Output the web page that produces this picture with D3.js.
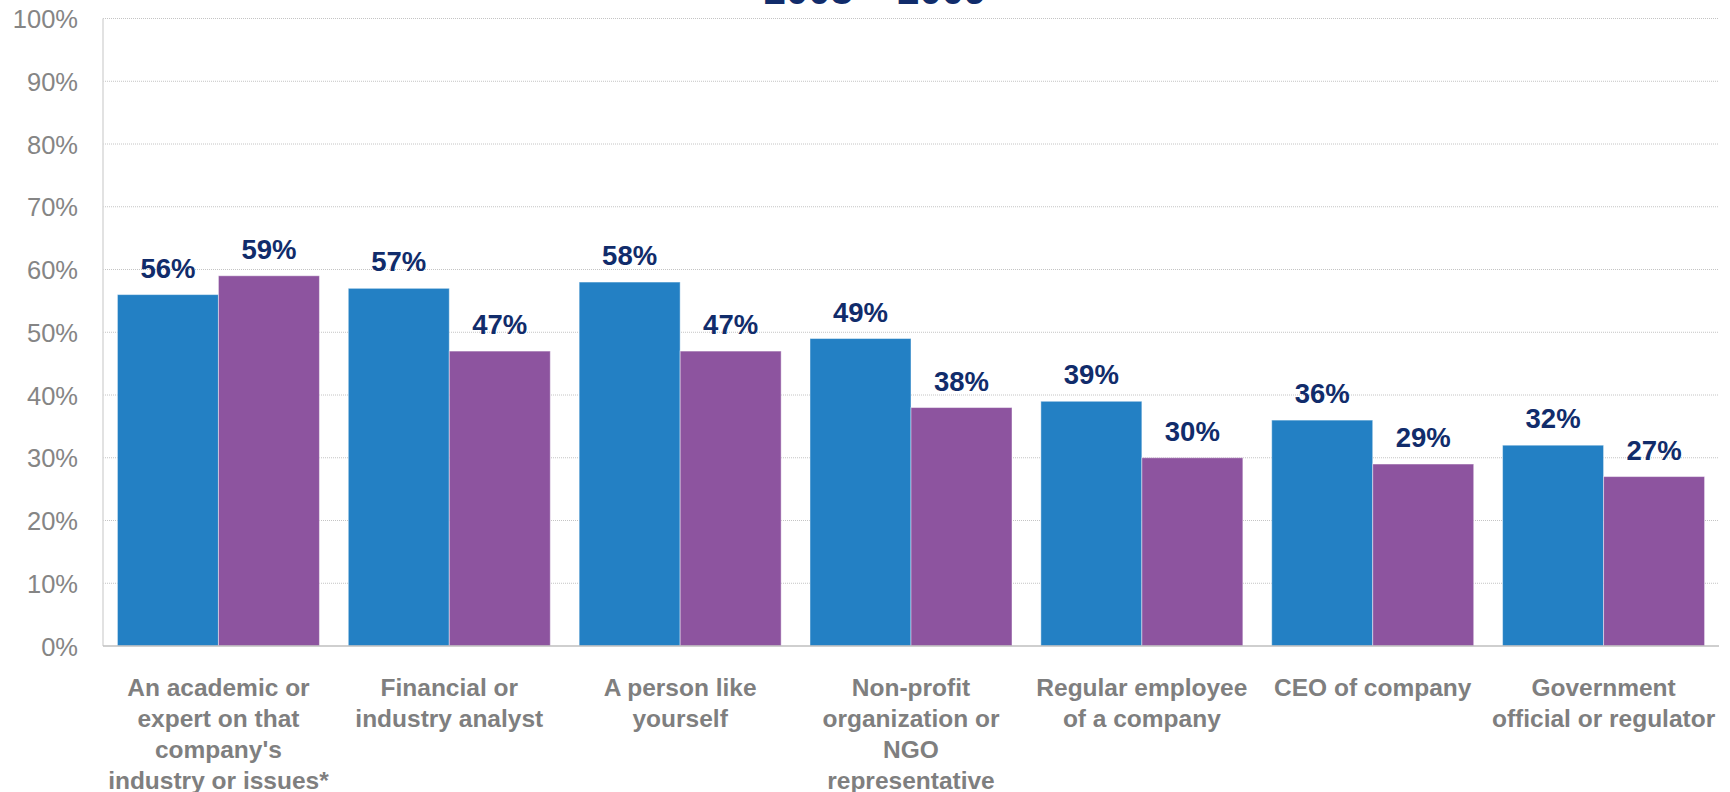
<!DOCTYPE html>
<html>
<head>
<meta charset="utf-8">
<script src="https://cdn.jsdelivr.net/npm/d3@7"></script>
<style>
  html, body { margin: 0; padding: 0; background: #ffffff; }
  svg { display: block; }
</style>
</head>
<body>
<svg id="chart" width="1730" height="792"></svg>
<script>
// Trust in spokespeople, two survey years side by side
const title = "2008 \u2013 2009";
const categories = [
  "An academic or\nexpert on that\ncompany's\nindustry or issues*",
  "Financial or\nindustry analyst",
  "A person like\nyourself",
  "Non-profit\norganization or\nNGO\nrepresentative",
  "Regular employee\nof a company",
  "CEO of company",
  "Government\nofficial or regulator"
];
const years = ["2008", "2009"];
const values2008 = [56, 57, 58, 49, 39, 36, 32];
const values2009 = [59, 47, 47, 38, 30, 29, 27];
const yTicks = [0, 10, 20, 30, 40, 50, 60, 70, 80, 90, 100];
const seriesColors = ["#2380c4", "#8d549f"];

const svg = d3.select("#chart");
const margin = { left: 103, right: 11, top: 18.5, bottom: 146 };
const W = 1730, H = 792;

const x0 = d3.scaleBand()
  .domain(categories)
  .range([margin.left, W - margin.right])
  .paddingInner(0.125)
  .paddingOuter(0.0625);

const x1 = d3.scaleBand()
  .domain(years)
  .range([0, x0.bandwidth()])
  .padding(0);

const y = d3.scaleLinear()
  .domain([0, 100])
  .range([H - margin.bottom, margin.top]);

const rows = categories.map((c, i) => ({
  category: c,
  values: [
    { year: years[0], value: values2008[i] },
    { year: years[1], value: values2009[i] }
  ]
}));

// dotted horizontal gridlines
svg.append("g")
  .selectAll("line")
  .data(yTicks.filter(t => t > 0))
  .join("line")
  .attr("x1", margin.left)
  .attr("x2", W - margin.right)
  .attr("y1", d => y(d))
  .attr("y2", d => y(d))
  .attr("stroke", "#c4c4c4")
  .attr("stroke-width", 1)
  .attr("stroke-dasharray", "1,1");

// y axis labels
const yAxis = d3.axisLeft(y)
  .tickValues(yTicks)
  .tickFormat(d => d + "%")
  .tickSize(0)
  .tickPadding(25);

const yG = svg.append("g")
  .attr("transform", `translate(${margin.left},0)`)
  .call(yAxis);
yG.select(".domain").remove();
yG.selectAll("text")
  .attr("fill", "#858585")
  .attr("font-family", "'Liberation Sans', Arial, sans-serif")
  .attr("font-size", 25.5)
  .attr("dy", "0.36em");

// bars
const groups = svg.append("g")
  .selectAll("g")
  .data(rows)
  .join("g")
  .attr("transform", d => `translate(${x0(d.category)},0)`);

groups.selectAll("rect")
  .data(d => d.values)
  .join("rect")
  .attr("x", d => x1(d.year))
  .attr("width", x1.bandwidth())
  .attr("y", d => y(d.value))
  .attr("height", d => y(0) - y(d.value))
  .attr("fill", (d, i) => seriesColors[i])
  .attr("stroke", "rgba(255,255,255,0.45)")
  .attr("stroke-width", 1);

// value labels
groups.selectAll("text.value")
  .data(d => d.values)
  .join("text")
  .attr("class", "value")
  .attr("x", d => x1(d.year) + x1.bandwidth() / 2)
  .attr("y", d => y(d.value) - 17)
  .attr("text-anchor", "middle")
  .attr("fill", "#112c6b")
  .attr("font-family", "'Liberation Sans', Arial, sans-serif")
  .attr("font-weight", "bold")
  .attr("font-size", 27.5)
  .text(d => d.value + "%");

// axis lines
svg.append("line")
  .attr("x1", margin.left).attr("x2", margin.left)
  .attr("y1", margin.top).attr("y2", y(0))
  .attr("stroke", "#d9d9d9").attr("stroke-width", 1.5);
svg.append("line")
  .attr("x1", margin.left).attr("x2", W - margin.right)
  .attr("y1", y(0)).attr("y2", y(0))
  .attr("stroke", "#bfbfbf").attr("stroke-width", 1.5);

// category labels
const catG = svg.append("g");
categories.forEach(c => {
  const cx = x0(c) + x0.bandwidth() / 2;
  const t = catG.append("text")
    .attr("text-anchor", "middle")
    .attr("fill", "#7f7f7f")
    .attr("font-family", "'Liberation Sans', Arial, sans-serif")
    .attr("font-weight", "bold")
    .attr("font-size", 24.5);
  c.split("\n").forEach((line, i) => {
    t.append("tspan")
      .attr("x", cx)
      .attr("y", y(0) + 50 + i * 31)
      .text(line);
  });
});

// title, partly above the top edge
svg.append("text")
  .attr("x", 875)
  .attr("y", 3.5)
  .attr("text-anchor", "middle")
  .attr("fill", "#112c6b")
  .attr("font-family", "'Liberation Sans', Arial, sans-serif")
  .attr("font-weight", "bold")
  .attr("font-size", 40)
  .text(title);
</script>
</body>
</html>
